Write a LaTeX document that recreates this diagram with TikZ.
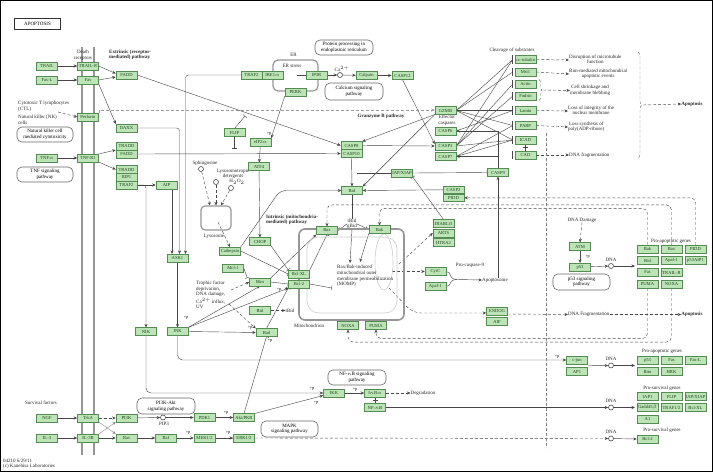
\documentclass[tikz,border=0pt]{standalone}
\usepackage{fontspec}
\setmainfont{Liberation Serif}
\usetikzlibrary{arrows.meta,decorations.pathreplacing,calc}
\pgfdeclarelayer{bg}
\pgfsetlayers{bg,main}
\definecolor{gfill}{RGB}{188,228,182}
\definecolor{gline}{RGB}{84,140,84}
\definecolor{gtext}{RGB}{30,70,30}
\definecolor{mgray}{RGB}{150,150,150}
\definecolor{lgray}{RGB}{205,205,205}
\newcommand\fs{\fontsize{4.6}{5}\selectfont}
\newcommand\ft{\fontsize{5}{5.6}\selectfont}
\newcommand\GB[3]{\node[gb] (#1) at (#2) {#3};}
\begin{document}
\begin{tikzpicture}[x=1pt,y=-1pt,
 gb/.style={draw=gline,fill=gfill,text=gtext,minimum width=21pt,minimum height=7.6pt,inner sep=0pt,font=\fs,line width=0.5pt},
 tx/.style={font=\ft,inner sep=0pt,align=center,text=black!85},
 txl/.style={tx,align=left,anchor=west},
 pw/.style={draw=black!60,rounded corners=5pt,font=\ft,align=center,inner sep=0pt,line width=0.6pt},
 ln/.style={draw=black!72,line width=0.42pt},
 ar/.style={ln,-{Stealth[length=3.5pt,width=3pt]}},
 inh/.style={ln,-{Bar[width=5pt]}},
 dsh/.style={ln,draw=black!55,dash pattern=on 3pt off 2pt},
 gr/.style={draw=mgray,line width=1.3pt},
 dn/.style={circle,draw=black!80,fill=white,inner sep=0pt,minimum size=5pt,line width=0.5pt},
 pp/.style={font=\fontsize{4.2}{4.5}\selectfont,inner sep=0pt}]
\useasboundingbox (0,0) rectangle (713,472);
\draw[line width=1.2pt] (0.6,0.6) rectangle (712.4,471.4);
\node[draw=black!80,line width=0.7pt,minimum width=46pt,minimum height=11pt,inner sep=0pt,font=\ft] (title) at (37.5,24) {APOPTOSIS};

% compartments
\draw[gr] (82,47) -- (82,455);
\draw[gr] (94,47) -- (94,455);
\node[draw=mgray,line width=1.6pt,rounded corners=6pt,minimum width=105pt,minimum height=91pt] (mito) at (351.5,274.5) {};
\draw[lgray,line width=0.6pt,rounded corners=12pt] (307,237) rectangle (397,313);
\draw[lgray,line width=0.6pt] (384,262) ellipse (9 and 28);
\node[draw=mgray,line width=1.2pt,rounded corners=5pt,minimum width=45pt,minimum height=31pt] (er) at (295.5,75.5) {};
\node[draw=mgray,line width=1.2pt,rounded corners=4pt,minimum width=30pt,minimum height=24pt] (lyso) at (216,218) {};
\draw[draw=black!50,line width=0.9pt,dash pattern=on 3pt off 2pt] (546,133) -- (546,448);

% pathway boxes
\node[pw,minimum width=56pt,minimum height=15pt] (nkbox) at (45,134.5) {Natural killer cell\\mediated cytotoxicity};
\node[pw,minimum width=56pt,minimum height=15pt] (tnfbox) at (45,174.5) {TNF signaling\\pathway};
\node[pw,minimum width=58pt,minimum height=15pt] (ppbox) at (344,47.5) {Protein processing in\\endoplasmic reticulum};
\node[pw,minimum width=58pt,minimum height=17pt] (cabox) at (354,91.5) {Calcium signaling\\pathway};
\node[pw,minimum width=57pt,minimum height=16pt] (p53box) at (581.5,282) {p53 signaling\\pathway};
\node[pw,minimum width=58pt,minimum height=16pt] (pi3box) at (166,406) {PI3K-Akt\\signaling pathway};
\node[pw,minimum width=58pt,minimum height=15pt] (nfbox) at (357,377.5) {NF-$\kappa$B signaling\\pathway};
\node[pw,minimum width=57pt,minimum height=16pt] (mapkbox) at (289.5,429) {MAPK\\signaling pathway};

% texts
\node[tx] (deathr) at (83,55) {Death\\receptors};
\node[txl,font=\ft\bfseries] (extr) at (109,55) {Extrinsic (receptor-\\mediated) pathway};
\node[txl] (ctl) at (18,106.5) {Cytotoxic T lymphocytes\\(CTL)};
\node[txl] (nk) at (18,119.5) {Natural killer (NK)\\cells};
\coordinate (ctlpt) at (58,112);
\node[tx] (ertx) at (293.5,54.5) {ER};
\node[tx] (erst) at (292,66) {ER stress};
\node[tx] (catx) at (342,69) {Ca$^{2+}$};
\node[tx,font=\ft\bfseries] (gzpath) at (381,116) {Granzyme B pathway};
\node[tx] (effc) at (447,120) {Effector\\caspases};
\node[tx] (cleav) at (512,50) {Cleavage of substrates};
\node[txl] (t1) at (569,60) {\begin{tabular}{@{}c@{}}Disruption of microtubule\\function\end{tabular}};
\node[txl] (t2) at (569,74) {\begin{tabular}{@{}c@{}}Bim-mediated mitochondrial\\apoptotic events\end{tabular}};
\node[txl] (t3) at (570,90.5) {\begin{tabular}{@{}c@{}}Cell shrinkage and\\membrane blebbing\end{tabular}};
\node[txl] (t4) at (568,111) {\begin{tabular}{@{}c@{}}Loss of integrity of the\\nuclear membrane\end{tabular}};
\node[txl] (t5) at (568,127) {\begin{tabular}{@{}c@{}}Loss synthesis of\\poly(ADP-ribose)\end{tabular}};
\node[txl] (t6) at (569,155) {DNA fragmentation};
\node[tx,font=\ft\bfseries] (apo1) at (692,104) {Apoptosis};
\node[tx] (sphi) at (205,163) {Sphingosine};
\node[tx] (lysot) at (233,174) {Lysosomotropic\\detergents};
\node[tx] (h2o2) at (237,182) {H$_2$O$_2$};
\node[tx] (lysol) at (214,236) {Lysosome};
\node[txl,font=\ft\bfseries] (intr) at (266,220) {Intrinsic (mitochondria-\\mediated) pathway};
\node[tx] (tbid) at (352,224) {tBid\\gBid};
\node[txl] (momp) at (337,276) {Bax/Bak-induced\\mitochondrial outer\\membrane permeabilization\\(MOMP)};
\node[txl] (troph) at (196,295) {Trophic factor\\deprivation,\\DNA damage,\\Ca$^{2+}$ influx,\\UV};
\node[tx] (tbid2) at (290,310.5) {tBid};
\node[tx] (mitol) at (309,326) {Mitochondrion};
\node[tx] (procas) at (470,265.5) {Pro-caspase-9};
\node[tx] (apopt) at (495,280) {Apoptosome};
\node[tx] (dnadmg) at (582,220) {DNA Damage};
\node[tx] (pag1) at (671,241.5) {Pro-apoptotic genes};
\node[txl] (dnafr2) at (568,314.5) {DNA Fragmentation};
\node[tx,font=\ft\bfseries] (apo2) at (692,314.5) {Apoptosis};
\node[tx] (degr) at (423,393) {Degradation};
\node[tx] (pag2) at (662,351) {Pro-apoptotic genes};
\node[tx] (psg1) at (662,388) {Pro-survival genes};
\node[tx] (psg2) at (662,430) {Pro-survival genes};
\node[tx] (survf) at (41,403) {Survival factors};
\node[tx] (pip3) at (164,423.5) {PIP3};
\node[txl] (copy) at (3,464) {04210 6/29/11\\(c) Kanehisa Laboratories};

% gene products
\GB{trail}{47,66}{TRAIL}
\GB{trailr}{88,66}{TRAIL-R}
\GB{fasl}{47,80}{Fas-L}
\GB{fas}{88,80}{Fas}
\GB{perforin}{88,117}{Perforin}
\GB{tnfa}{47,158}{TNF$\alpha$}
\GB{tnfr}{88,158}{TNF-R1}
\GB{ngf}{47,418}{NGF}
\GB{trka}{88,418}{TrkA}
\GB{il3}{47,438}{IL-3}
\GB{il3r}{88,438}{IL-3R}
\GB{fadd1}{126.5,75}{FADD}
\GB{daxx}{126.5,128}{DAXX}
\GB{tradd1}{126.5,146}{TRADD}
\GB{fadd2}{126.5,154}{FADD}
\GB{tradd2}{126.5,169.5}{TRADD}
\GB{rip1}{126.5,177.3}{RIP1}
\GB{traf2b}{126.5,185}{TRAF2}
\GB{aip}{166.5,185}{AIP}
\GB{ask1}{177.5,258}{ASK1}
\GB{nik}{146,331.5}{NIK}
\GB{jnk}{177.5,331.5}{JNK}
\GB{pi3k}{126.5,418}{PI3K}
\GB{ras}{126.5,438}{Ras}
\GB{raf}{166,438}{Raf}
\GB{pdk1}{204.5,417.5}{PDK1}
\GB{mek}{204.5,438}{MEK1/2}
\GB{akt}{244,417.5}{Akt/PKB}
\GB{erk}{244,438}{ERK1/2}
\GB{ikk}{334,393}{IKK}
\GB{ikba}{375,393}{I$\kappa$B$\alpha$}
\GB{nfkb}{375,407.5}{NF-$\kappa$B}
\GB{bad}{266.5,332.5}{Bad}
\GB{bidb}{260,310.5}{Bid}
\GB{bim}{260,282}{Bim}
\GB{mcl1}{233,268}{Mcl-1}
\GB{bclxl}{299,274}{Bcl-XL}
\GB{bcl2}{299,284}{Bcl-2}
\GB{cath}{230,251}{Cathepsin}
\GB{chop}{260,241.5}{CHOP}
\GB{atf4}{259,166.5}{ATF4}
\GB{eif}{260.5,142}{eIF2$\alpha$}
\GB{flip}{234.5,132.5}{FLIP}
\GB{traf2a}{251.5,75}{TRAF2}
\GB{ire}{272.5,75}{IRE1$\alpha$}
\GB{ip3r}{316.5,75}{IP3R}
\GB{perk}{295.5,92}{PERK}
\GB{calpain}{366.5,75.5}{Calpain}
\GB{casp12}{402.5,75.5}{CASP12}
\GB{casp8}{351.5,145.5}{CASP8}
\GB{casp10}{351.5,153.5}{CASP10}
\GB{gzmb}{445.5,110.5}{GZMB}
\GB{casp6}{445.5,131}{CASP6}
\GB{casp3}{445.5,146}{CASP3}
\GB{casp7}{445.5,156.5}{CASP7}
\GB{bid}{352,190.5}{Bid}
\GB{iap}{402,173}{IAP/XIAP}
\GB{casp9}{498,172.5}{CASP9}
\GB{casp2}{453.5,189.8}{CASP2}
\GB{pidd}{453.5,197.8}{PIDD}
\GB{bax}{327,230.5}{Bax}
\GB{bak}{379.5,229.5}{Bak}
\GB{diablo}{443.5,223.5}{DIABLO}
\GB{arts}{443.5,233}{ARTS}
\GB{htra2}{443.5,242.5}{HTRA2}
\GB{cytc}{435.5,271.5}{CytC}
\GB{apaf}{435.5,286.5}{Apaf-1}
\GB{endog}{497,311}{ENDOG}
\GB{aif}{497,321.5}{AIF}
\GB{noxa}{348,325.5}{NOXA}
\GB{puma}{376,325.5}{PUMA}
\GB{atub}{525.5,59.5}{$\alpha$-tubulin}
\GB{mst1}{525.5,72}{Mst1}
\GB{actin}{525.5,84}{Actin}
\GB{fodrin}{525.5,96}{Fodrin}
\GB{lamin}{525.5,110.5}{Lamin}
\GB{parp}{525.5,125.5}{PARP}
\GB{icad}{525.5,140}{ICAD}
\GB{cad}{525.5,155}{CAD}
\GB{atm}{580,246.5}{ATM}
\GB{p53}{580,267}{p53}
\GB{gbak}{647.5,249}{Bak}
\GB{gbax}{671.5,249}{Bax}
\GB{gpidd}{695.5,249}{PIDD}
\GB{gbid}{647.5,260.5}{Bid}
\GB{gapaf}{671.5,260.5}{Apaf-1}
\GB{gp53aip}{695.5,260.5}{p53AIP1}
\GB{gfas}{647.5,272.5}{Fas}
\GB{gtrailr}{671.5,272.5}{TRAIL-R}
\GB{gpuma}{647.5,284}{PUMA}
\GB{gnoxa}{671.5,284}{NOXA}
\GB{cjun}{577,360}{c-jun}
\GB{ap1}{577,371.5}{AP1}
\GB{hp53}{647.5,360}{p53}
\GB{hfas}{671.5,360}{Fas}
\GB{hfasl}{695.5,360}{Fas-L}
\GB{hbim}{647.5,371.5}{Bim}
\GB{hhrk}{671.5,371.5}{HRK}
\GB{siap1}{647.5,396.5}{IAP1}
\GB{sflip}{671.5,396.5}{FLIP}
\GB{sxiap}{695.5,396.5}{IAP/XIAP}
\GB{sgadd}{647.5,407.5}{Gadd45$\beta$}
\GB{straf}{671.5,407.5}{TRAF1/2}
\GB{sbclxl}{695.5,407.5}{Bcl-XL}
\GB{sa1}{647.5,419}{A1}
\GB{sbcl2}{647.5,439}{Bcl-2}

% small circles
\node[dn] (ca) at (340,75) {};
\node[dn] (pip) at (163,417.5) {};
\node[dn] (s1) at (201,169) {};
\node[dn] (s2) at (216,182) {};
\node[dn] (s3) at (231,188) {};
\node[dn] (dna1) at (611,266) {};
\node[dn] (dna2) at (611,365.5) {};
\node[dn] (dna3) at (611,407.5) {};
\node[dn] (dna4) at (611,438.5) {};
\node[tx] (dna1l) at (611,260) {DNA};
\node[tx] (dna2l) at (611,358.5) {DNA};
\node[tx] (dna3l) at (611,401) {DNA};
\node[tx] (dna4l) at (611,432) {DNA};

% +p labels
\node[pp] (p1) at (269,134) {+p};
\node[pp] (p2) at (250,328) {+p};
\node[pp] (p3) at (279,290) {+p};
\node[pp] (p4) at (587.5,256.5) {+p};
\node[pp] (p5) at (270,341) {+p};
\node[pp] (p6) at (226,413) {+p};
\node[pp] (p7) at (312,389) {+p};
\node[pp] (p8) at (316,403) {+p};
\node[pp] (p9) at (355,389.5) {+p};
\node[pp] (p10) at (557,357) {+p};
\node[pp] (p11) at (188,433) {+p};
\node[pp] (p12) at (228,433) {+p};
\node[pp] (p13) at (186,318) {+p};

% free coordinates
\coordinate (flipa) at (234.5,148);
\coordinate (flipb) at (245,116);
\coordinate (erin) at (297,75);
\coordinate (iapl) at (357,173);
\coordinate (mrg) at (457,279.5);
\coordinate (mo1) at (392,271.5);
\coordinate (mo2) at (399,264);
\coordinate (mo3) at (389,288);
\coordinate (mm1) at (350,263);
\coordinate (mm2) at (360,262);
\coordinate (tr1) at (231,290);
\coordinate (tr2) at (229,304);
\coordinate (g1in) at (635,266);
\coordinate (g2in) at (635,365.5);
\coordinate (g3in) at (635,407.5);
\coordinate (bt1) at (543,90);
\coordinate (bt2) at (643,105);

\begin{pgfonlayer}{bg}
\draw[ar] (trail) -- (trailr);
\draw[ar] (fasl) -- (fas);
\draw[ar] (tnfa) -- (tnfr);
\draw[ar] (ngf) -- (trka);
\draw[ar] (il3) -- (il3r);
\draw[ar] (trailr.east) -- ($(fadd1.west)+(0,-1.5)$);
\draw[ar] (fas.east) -- ($(fadd1.west)+(0,2)$);
\draw[ar] (fas.south east) -- (daxx.north west);
\draw[ar] (tnfr.north east) -- (tradd1.south west);
\draw[ar] (tnfr.south east) -- (tradd2.west);
\draw[dsh,ar] (ctlpt) -- (perforin.west);
\draw[dsh,ar,draw=black!40,line width=0.4pt] (perforin.north east) |- ($(gzmb.west)+(0,-0.5)$);
\draw[ar] (fadd1.east) -- (casp8.west);
\draw[ar] (fadd2.east) -- (casp10.west);
\draw[inh] (flip.south) -- (flipa);
\draw[inh] (flip.north) -- (flipb);
\draw[ar,rounded corners=3pt] (daxx.east) -| ([xshift=2pt]ask1.north);
\draw[ar] ([xshift=5.5pt]aip.south) -- ([xshift=-5.5pt]ask1.north);
\draw[ar,rounded corners=3pt] (traf2a.west) -| ([xshift=8pt]ask1.north);
\draw[ar] (traf2b) -- (aip);
\draw[ar,rounded corners=3pt] (traf2b.east) -| (nik.north);
\draw[ar] (ask1) -- (jnk);
\draw[ar,rounded corners=5pt] (nik.south) |- (ikk.west);
\draw[ar,rounded corners=5pt] (jnk.south) |- (cjun.west);
\draw[ar] (jnk.east) -- (bad.west);
\draw[ar] (jnk.north east) -- (bim.south);
\draw[ar] (jnk.north east) -- (bcl2.south west);
% ER / calcium
\draw[ln] (erin) -- (ip3r.west);
\draw[ar] (ip3r) -- (ca);
\draw[ar] (ca) -- (calpain);
\draw[ar] (calpain) -- (casp12);
\draw[ar] (perk.south west) -- (eif.north east);
\draw[ar] (eif) -- (atf4);
\draw[ar] (atf4) -- (chop);
\draw[ar] (casp12.south) -- ($(casp3.west)+(0,-2)$);
\draw[ar] (casp8.east) -- (casp3.west);
\draw[ar] (gzmb.south west) -- (casp8.north east);
\draw[ar] (gzmb.south west) -- (bid.north east);
\draw[ar] (casp10.south) -- (bid.north);
\draw[ar] (casp2.west) -- (bid.east);
\draw[ln] (iapl) -- (iap.west);
\draw[inh] (iap.east) -- (casp9.west);
\draw[inh] (diablo.north) -- (iap.south east);
\draw[ar] (casp9.north) |- (casp6.east);
\draw[ar] (casp9.north) |- (casp7.east);
% substrates
\foreach \s in {atub,mst1,actin,fodrin,lamin,parp,icad,cad}{
  \draw[ln,line width=0.7pt] ([xshift=-2pt]\s.north west) -- ([xshift=-2pt]\s.south west);}
\foreach \s in {atub,mst1,lamin,parp,icad}{\draw[ln] (gzmb.east) -- ([xshift=-2pt]\s.west);}
\foreach \s in {atub,actin,fodrin,icad}{\draw[ln] (casp3.east) -- ([xshift=-2pt]\s.west);}
\foreach \s in {parp,icad}{\draw[ln] (casp7.east) -- ([xshift=-2pt]\s.west);}
\draw[ln] (casp6.east) -- ([xshift=-2pt]lamin.west);
\draw[ln] (icad.south) -- (cad.north);
\draw[ln] ($(icad.south)!0.5!(cad.north)+(-2.5,0)$) -- ($(icad.south)!0.5!(cad.north)+(2.5,0)$);
\draw[dsh,ar] (atub.east) -- (t1.west);
\draw[dsh,ar] (mst1.east) -- (t2.west);
\draw[dsh,decorate,decoration={brace,amplitude=3pt}] (539,79.5) -- (539,100.5);
\draw[dsh,ar] (bt1) -- (t3.west);
\draw[dsh,ar] (lamin.east) -- (t4.west);
\draw[dsh,ar] (parp.east) -- (t5.west);
\draw[dsh,ar] (cad.east) -- (t6.west);
\draw[dsh,decorate,decoration={brace,amplitude=4pt}] (638,52) -- (638,158);
\draw[dsh,ar] (bt2) -- (apo1.west);
% lysosome
\draw[dsh,ar] (s1) -- ([xshift=-6pt]lyso.north);
\draw[dsh,ar] (s2) -- (lyso.north);
\draw[dsh,ar] (s3) -- ([xshift=5pt]lyso.north);
\draw[dsh,ar] ($(lyso.center)+(2,4)$) -- (cath.north);
\draw[ar,rounded corners=6pt] (cath.north east) -- (280,190.5) -- (bid.west);
% Bcl-2 family
\draw[inh] (mcl1.east) -- ([xshift=-2pt]bim.north west);
\draw[ar] (bim.north east) -- (bax.south west);
\draw[inh] (bim.east) -- (bcl2.west);
\draw[inh] (chop.south east) -- (bclxl.north west);
\draw[inh] (cath.east) -- (bclxl.west);
\draw[inh] (bad.north) -- (bcl2.south west);
\draw[inh] (akt.north) -- (bad.south);
\draw[inh] (bclxl.north east) -- (bax.south);
\draw[inh] (bcl2.east) -- ($(bcl2.east)+(22,4)$);
\draw[dsh,ar] (tr1) -- (bim.west);
\draw[dsh,ar] (tr2) -- (bad.north west);
\draw[dsh,ar] (bidb.east) -- (tbid2.west);
\draw[ln] (bid.south) -- (tbid.north);
\draw[ar] (tbid.west) -- (bax.east);
\draw[ar] (tbid.east) -- (bak.west);
\draw[ar] (tbid.south) -- (mm1);
\draw[ar] (bak.south west) -- (mm2);
% mitochondrial outputs
\draw[dsh,ar] (mo1) -- (cytc.west);
\draw[dsh,ar] (mo2) -- (arts.west);
\draw[dsh,ar,rounded corners=8pt] (mo3) -- (413,313) -- ($(endog.west)+(0,2)$);
\draw[ln] (cytc.east) .. controls (452,271.5) and (448,279.5) .. (mrg);
\draw[ln] (apaf.east) .. controls (452,286.5) and (448,279.5) .. (mrg);
\draw[ar] (mrg) -- (apopt.west);
\draw[ar] (casp9.south |- apopt.north) -- (casp9.south);
\draw[dsh,ar] ($(endog.east)+(0,3)$) -- (dnafr2.west);
\draw[dsh,ar] (dnafr2.east) -- (apo2.west);
% p53
\draw[dsh,ar] (dnadmg.south) -- (atm.north);
\draw[ar] (atm) -- (p53);
\draw[ar] (p53) -- (dna1);
\draw[ar] (dna1) -- (g1in);
\draw[dsh,ar,rounded corners=5pt] (gpidd.north) |- (pidd.east);
\draw[dsh,ar,rounded corners=5pt] (gbax.north) |- ($(bax.north)+(0,-21.5)$) -- (bax.north);
\draw[dsh,ar,rounded corners=5pt] (gbak.north) |- ($(bak.north)+(0,-17)$) -- (bak.north);
\draw[dsh,ar,rounded corners=5pt] (gpuma.south) |- ($(puma.south)+(0,9)$) -- (puma.south);
\draw[dsh,ar,rounded corners=5pt] (gnoxa.south) |- ($(noxa.south)+(0,12.5)$) -- (noxa.south);
% survival
\draw[dsh,ar] (trka) -- (pi3k);
\draw[ar,draw=black!45] (trka.south east) -- (ras.north west);
\draw[ar,draw=black!45] (il3r.north east) -- (pi3k.south west);
\draw[ar] (il3r) -- (ras);
\draw[ar] (pi3k) -- (pip);
\draw[ar] (pip) -- (pdk1);
\draw[ar] (pdk1) -- (akt);
\draw[ar] (ras) -- (raf);
\draw[ar] (raf) -- (mek);
\draw[ar] (mek) -- (erk);
\draw[ar] (akt.north east) -- ($(ikk.west)+(0,2.5)$);
\draw[ar] (ikk) -- (ikba);
\draw[dsh,ar] (ikba) -- (degr.west);
\draw[ln] (ikba.south) -- (nfkb.north);
\draw[ln] ($(ikba.south)!0.5!(nfkb.north)+(-2.5,0)$) -- ($(ikba.south)!0.5!(nfkb.north)+(2.5,0)$);
\draw[ar] (nfkb.east) -- (dna3.west);
\draw[ar] (dna3) -- (g3in);
\draw[ar] ($(cjun.south east)!0.5!(ap1.north east)$) -- (dna2.west);
\draw[ar] (dna2) -- (g2in);
\draw[dsh,ar] (erk.east) -- (dna4.west);
\draw[ar] (dna4) -- (sbcl2.west);
\end{pgfonlayer}
\end{tikzpicture}
\end{document}
